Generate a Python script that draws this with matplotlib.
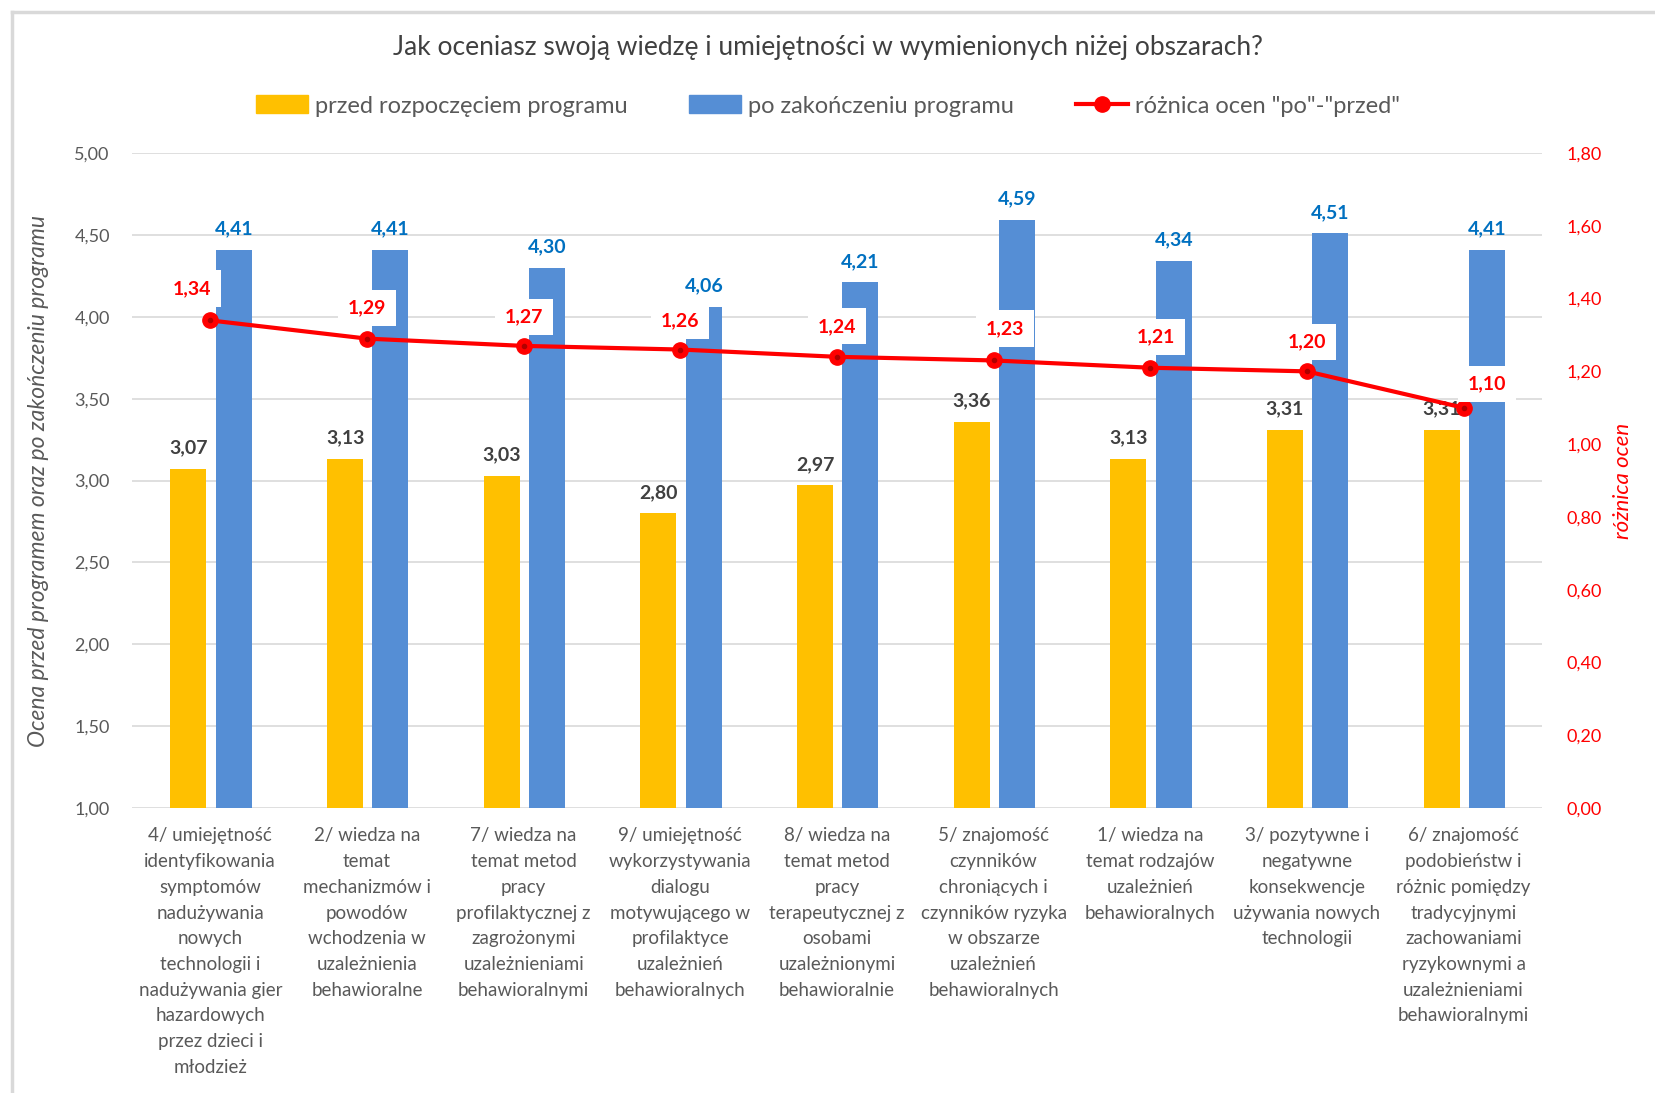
import matplotlib.pyplot as plt
from matplotlib.patches import Patch
from matplotlib.lines import Line2D
import numpy as np

plt.rcParams['font.family'] = ['Lato', 'DejaVu Sans']

# data
categories = [
    "4/ umiejętność\nidentyfikowania\nsymptomów\nnadużywania\nnowych\ntechnologii i\nnadużywania gier\nhazardowych\nprzez dzieci i\nmłodzież",
    "2/ wiedza na\ntemat\nmechanizmów i\npowodów\nwchodzenia w\nuzależnienia\nbehawioralne",
    "7/ wiedza na\ntemat metod\npracy\nprofilaktycznej z\nzagrożonymi\nuzależnieniami\nbehawioralnymi",
    "9/ umiejętność\nwykorzystywania\ndialogu\nmotywującego w\nprofilaktyce\nuzależnień\nbehawioralnych",
    "8/ wiedza na\ntemat metod\npracy\nterapeutycznej z\nosobami\nuzależnionymi\nbehawioralnie",
    "5/ znajomość\nczynników\nchroniących i\nczynników ryzyka\nw obszarze\nuzależnień\nbehawioralnych",
    "1/ wiedza na\ntemat rodzajów\nuzależnień\nbehawioralnych",
    "3/ pozytywne i\nnegatywne\nkonsekwencje\nużywania nowych\ntechnologii",
    "6/ znajomość\npodobieństw i\nróżnic pomiędzy\ntradycyjnymi\nzachowaniami\nryzykownymi a\nuzależnieniami\nbehawioralnymi",
]
before = [3.07, 3.13, 3.03, 2.80, 2.97, 3.36, 3.13, 3.31, 3.31]
after = [4.41, 4.41, 4.30, 4.06, 4.21, 4.59, 4.34, 4.51, 4.41]
diff = [1.34, 1.29, 1.27, 1.26, 1.24, 1.23, 1.21, 1.20, 1.10]

left_ticks = [1.0, 1.5, 2.0, 2.5, 3.0, 3.5, 4.0, 4.5, 5.0]
right_ticks = [0.0, 0.2, 0.4, 0.6, 0.8, 1.0, 1.2, 1.4, 1.6, 1.8]

YELLOW = '#FFC000'
BLUE = '#558ED5'
RED = '#FF0000'
GREY = '#595959'

def pl(v):
    return f"{v:.2f}".replace('.', ',')

fig = plt.figure(figsize=(16.56, 10.93), dpi=100)
ax = fig.add_axes([0.0797, 0.2607, 0.8514, 0.5993])
ax2 = ax.twinx()

x = np.arange(len(categories))
w = 0.23
ax.bar(x - 0.14, before, w, color=YELLOW, zorder=2)
ax.bar(x + 0.15, after, w, color=BLUE, zorder=2)

for xi, v in zip(x, before):
    ax.annotate(pl(v), (xi - 0.14, v), xytext=(0, 9), textcoords='offset points',
                ha='center', va='bottom', fontsize=14, fontweight='bold', color='#404040')
for xi, v in zip(x, after):
    ax.annotate(pl(v), (xi + 0.15, v), xytext=(0, 9), textcoords='offset points',
                ha='center', va='bottom', fontsize=14, fontweight='bold', color='#0070C0')

ax.set_xlim(-0.5, len(categories) - 0.5)
ax.set_ylim(1, 5)
ax.set_yticks(left_ticks)
ax.set_yticklabels([pl(t) for t in left_ticks])
ax.set_xticks(x)
ax.set_xticklabels(categories, fontsize=13.5, color=GREY, linespacing=1.62, va='top')
ax.tick_params(axis='x', length=0, pad=14)
ax.tick_params(axis='y', length=0, pad=16, labelsize=13, labelcolor=GREY)
ax.grid(axis='y', color='#D9D9D9', linewidth=1.2, zorder=0)
ax.set_axisbelow(True)
for s in ax.spines.values():
    s.set_visible(False)
ax.set_ylabel("Ocena przed programem oraz po zakończeniu programu", fontsize=16.5,
              style='italic', color=GREY, labelpad=18)

ax2.plot(x, diff, color=RED, linewidth=3, marker='o', markersize=11, zorder=3)
ax2.plot(x, diff, linestyle='none', marker='o', markersize=3, color='#B00000', zorder=4)
dxs = [-13, 0, 0, 0, 0, 8, 4, 0, 17]
dys = [23, 22, 21, 21, 22, 23, 22, 21, 17]
for xi, v, dx, dy in zip(x, diff, dxs, dys):
    ax2.annotate(pl(v), (xi, v), xytext=(dx, dy), textcoords='offset points',
                 ha='center', va='center', fontsize=14, fontweight='bold', color=RED,
                 bbox=dict(boxstyle='square,pad=0.5', fc='white', ec='none'), zorder=5)
ax2.set_ylim(0, 1.8)
ax2.set_yticks(right_ticks)
ax2.set_yticklabels([pl(t) for t in right_ticks])
ax2.tick_params(axis='y', length=0, pad=18, labelsize=13, labelcolor=RED)
for s in ax2.spines.values():
    s.set_visible(False)
ax2.set_ylabel("różnica ocen", fontsize=16, style='italic', color=RED, labelpad=8)

fig.text(0.5, 1 - 47 / 1093, "Jak oceniasz swoją wiedzę i umiejętności w wymienionych niżej obszarach?",
         ha='center', va='center', fontsize=19, color='#404040')

handles = [Patch(color=YELLOW), Patch(color=BLUE),
           Line2D([], [], color=RED, linewidth=3, marker='o', markersize=11)]
labels = ["przed rozpoczęciem programu", "po zakończeniu programu", 'różnica ocen "po"-"przed"']
fig.legend(handles, labels, loc='center', bbox_to_anchor=(0.5, 1 - 106 / 1093), ncol=3,
           frameon=False, fontsize=17, labelcolor=GREY, handlelength=2.2, handleheight=0.8,
           handletextpad=0.3, columnspacing=2.6)

# outer chart border (cropped at right and bottom)
fig.add_artist(Line2D([12 / 1656, 12 / 1656], [0, 1 - 12 / 1093], color='#D9D9D9', linewidth=2.5))
fig.add_artist(Line2D([12 / 1656, 1], [1 - 12 / 1093, 1 - 12 / 1093], color='#D9D9D9', linewidth=2.5))

fig.savefig('out.png', dpi=100)
